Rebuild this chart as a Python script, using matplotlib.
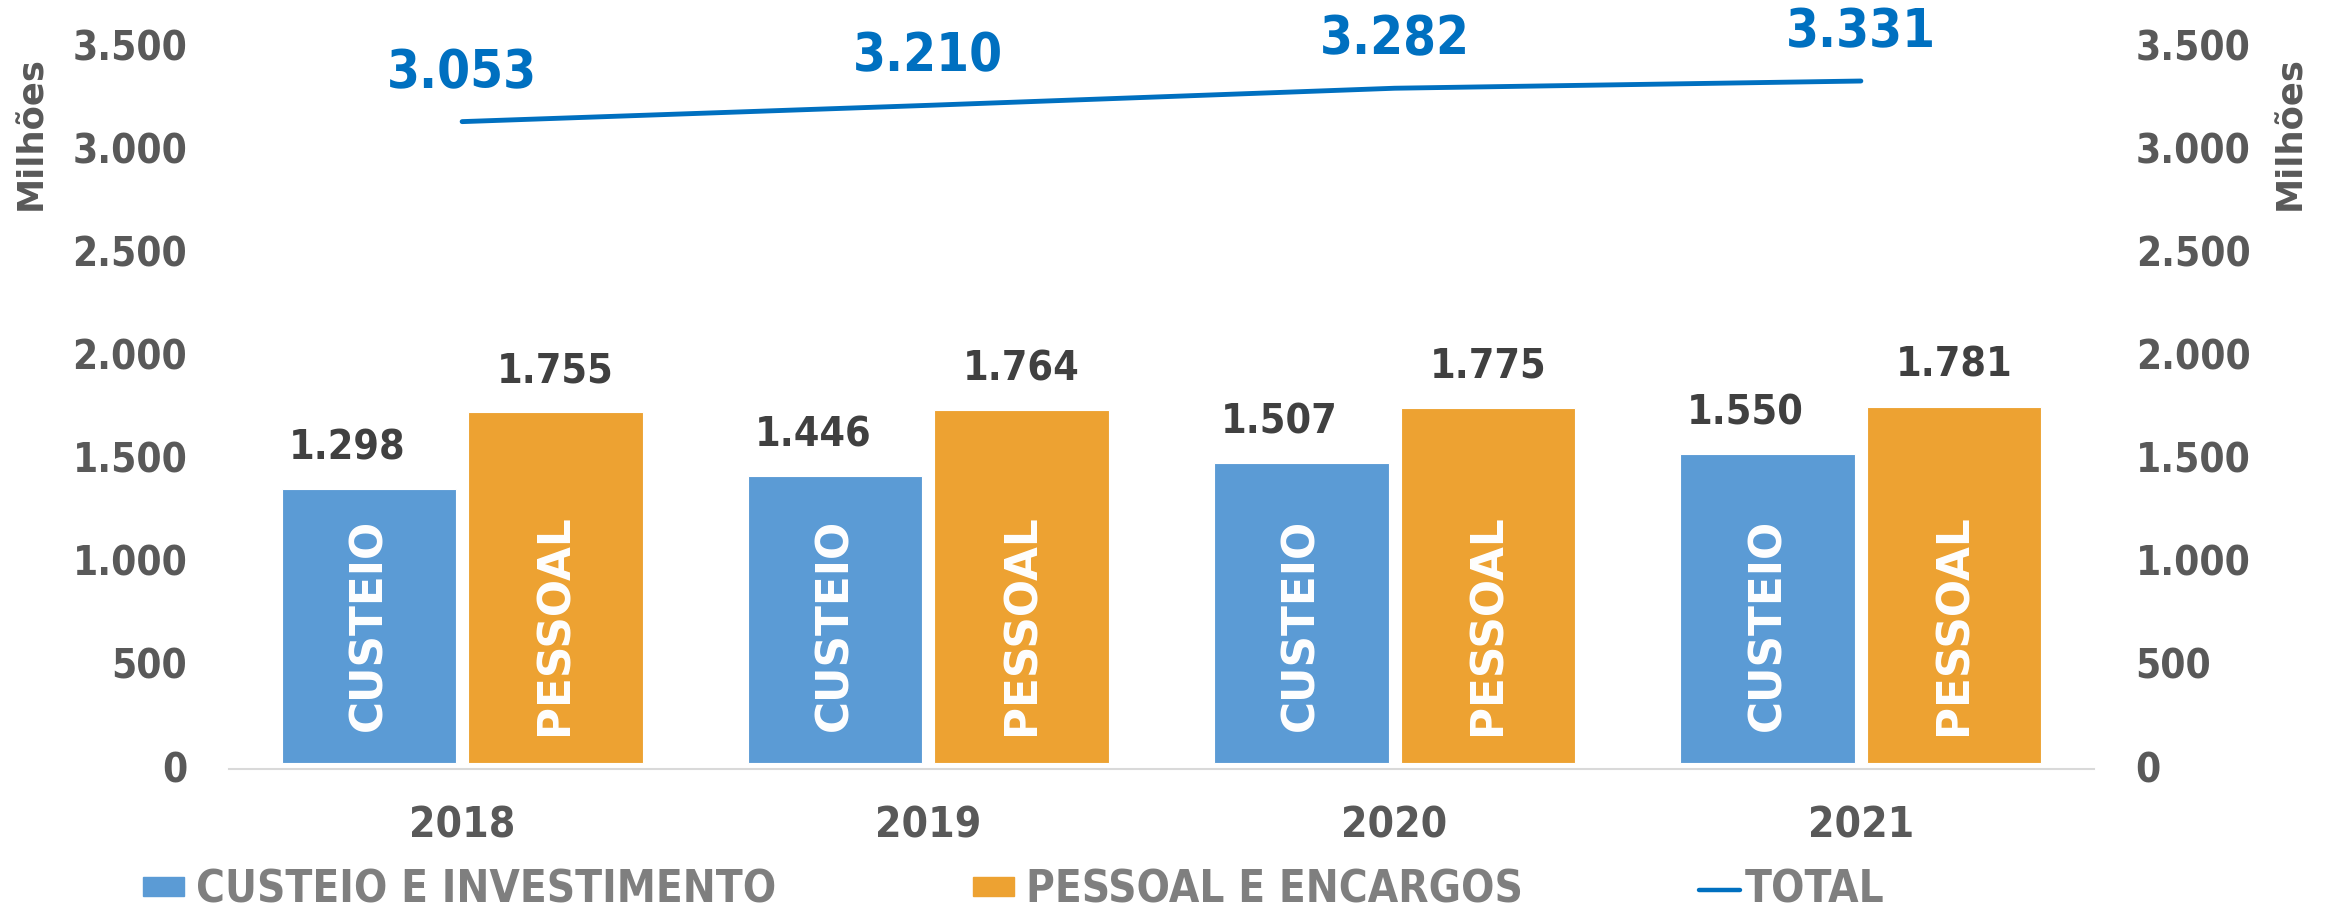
import numpy as np
import matplotlib
matplotlib.use('Agg')
import matplotlib.pyplot as plt
import matplotlib.patches as mpatches
import matplotlib.transforms as mtransforms
from matplotlib.lines import Line2D
from matplotlib import font_manager as fm

#---------------------------------------------
#data
#---------------------------------------------
anos = ['2018', '2019', '2020', '2021']
custeio = [1325, 1390, 1451, 1495]
pessoal = [1700, 1710, 1721, 1725]
total = [3109, 3188, 3271, 3306]
custeio_lbl = ['1.298', '1.446', '1.507', '1.550']
pessoal_lbl = ['1.755', '1.764', '1.775', '1.781']
total_lbl = ['3.053', '3.210', '3.282', '3.331']
yticks = [0, 500, 1000, 1500, 2000, 2500, 3000, 3500]
legend_names = ['CUSTEIO E INVESTIMENTO', 'PESSOAL E ENCARGOS', 'TOTAL']

#colours
AZUL = '#5B9BD5'
LARANJA = '#EDA232'
LINHA = '#0070C0'
CINZA = '#595959'
ESCURO = '#404040'

#---------------------------------------------
#fonts: condensed bold if we have it
#---------------------------------------------
cond_file = None
for f in fm.fontManager.ttflist:
    if 'DejaVuSansCondensed-Bold.ttf' in f.fname:
        cond_file = f.fname

def fp(size):
    if cond_file:
        return fm.FontProperties(fname=cond_file, size=size)
    return fm.FontProperties(family='DejaVu Sans', weight='bold', size=size)

def fmt(v):
    return '{:,}'.format(int(v)).replace(',', '.')

#---------------------------------------------
#figure
#---------------------------------------------
W, H = 2336, 909
fig = plt.figure(figsize=(W/100, H/100), dpi=100)
ax = fig.add_axes([229/W, 140.5/H, 1865/W, 768.5/H])

x = np.arange(len(anos))
bw = 0.374
off = 0.2

ax.bar(x - off, custeio, bw, color=AZUL, edgecolor='white', linewidth=0.8, zorder=2)
ax.bar(x + off, pessoal, bw, color=LARANJA, edgecolor='white', linewidth=0.8, zorder=2)
ax.plot(x, total, color=LINHA, lw=3.5, solid_capstyle='round', zorder=3)

for i in range(len(anos)):
    ax.annotate(custeio_lbl[i], (x[i] - off, custeio[i]), xytext=(-16, 29.5),
                textcoords='offset points', ha='center', va='center',
                color=ESCURO, fontproperties=fp(29.5))
    ax.annotate(pessoal_lbl[i], (x[i] + off, pessoal[i]), xytext=(0, 29.5),
                textcoords='offset points', ha='center', va='center',
                color=ESCURO, fontproperties=fp(29.5))
    ax.annotate(total_lbl[i], (x[i], total[i]), xytext=(0, 35),
                textcoords='offset points', ha='center', va='center',
                color=LINHA, fontproperties=fp(38))
    ax.text(x[i] - off, 670, 'CUSTEIO', rotation=90, ha='center', va='center',
            color='white', family='DejaVu Sans', fontweight='bold', fontsize=31.5, zorder=4)
    ax.text(x[i] + off, 670, 'PESSOAL', rotation=90, ha='center', va='center',
            color='white', family='DejaVu Sans', fontweight='bold', fontsize=31.5, zorder=4)

ax.set_xlim(-0.5, 3.5)
ax.set_ylim(-29, 3699)

ax.set_xticks(x)
ax.set_xticklabels(anos, fontproperties=fp(30.5), color=CINZA)
ax.set_yticks(yticks)
ax.set_yticklabels([fmt(v) for v in yticks], fontproperties=fp(29), color=CINZA)
ax.tick_params(axis='x', length=0, pad=26)
ax.tick_params(axis='y', length=0, pad=30)

for s in ['top', 'left', 'right']:
    ax.spines[s].set_visible(False)
ax.spines['bottom'].set_color('#D9D9D9')
ax.spines['bottom'].set_linewidth(1.5)

#secondary axis, same scale
ax2 = ax.twinx()
ax2.set_ylim(ax.get_ylim())
ax2.set_yticks(yticks)
ax2.set_yticklabels([fmt(v) for v in yticks], fontproperties=fp(29), color=CINZA)
ax2.tick_params(axis='y', length=0, pad=30)
for s in ax2.spines.values():
    s.set_visible(False)

#nudge y tick labels down a bit like the original
shift = mtransforms.ScaledTranslation(0, -4/100, fig.dpi_scale_trans)
for lbl in ax.get_yticklabels() + ax2.get_yticklabels():
    lbl.set_transform(lbl.get_transform() + shift)

fig.text(31.5/W, 1 - 133.5/H, 'Milhões', rotation=90, ha='center', va='center',
         color=CINZA, family='DejaVu Sans', fontweight='bold', fontsize=25.5)
fig.text(2290/W, 1 - 133.5/H, 'Milhões', rotation=90, ha='center', va='center',
         color=CINZA, family='DejaVu Sans', fontweight='bold', fontsize=25.5)

#---------------------------------------------
#legend, one entry at a time
#---------------------------------------------
handles = [mpatches.Patch(color=AZUL), mpatches.Patch(color=LARANJA),
           Line2D([], [], color=LINHA, lw=3.2, solid_capstyle='round')]
starts = [143, 973, 1699]
pads = [0.28, 0.28, 0.1]
for h, name, x0, p in zip(handles, legend_names, starts, pads):
    fig.legend([h], [name], loc='center left', bbox_to_anchor=(x0/W, 1 - 890/H),
               frameon=False, borderpad=0, borderaxespad=0, prop=fp(31.5),
               labelcolor='#7F7F7F', handlelength=0.94, handleheight=0.29,
               handletextpad=p)

fig.savefig('out.png', dpi=100)
